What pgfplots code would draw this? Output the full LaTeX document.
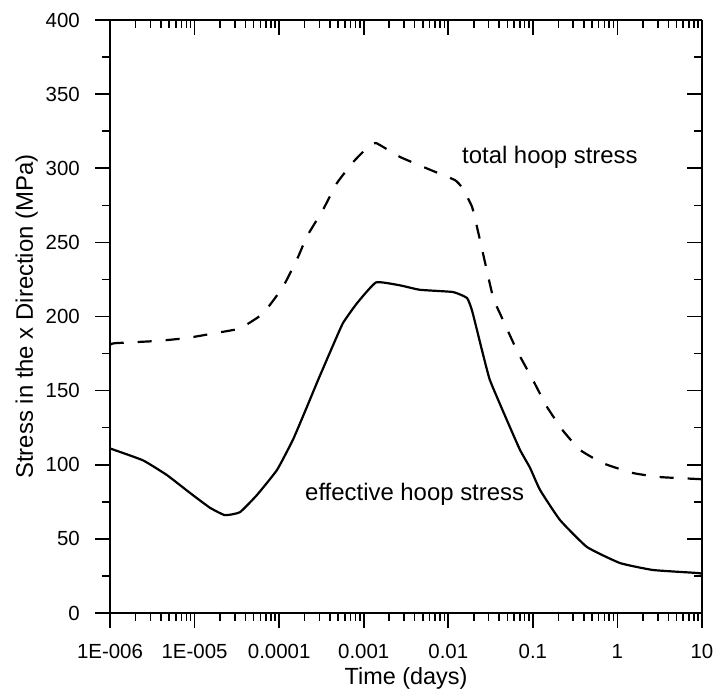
\documentclass[border=0pt]{standalone}
\usepackage{fontspec}
\setmainfont{Liberation Sans}
\usepackage{pgfplots}
\pgfplotsset{compat=1.18}
\def\myminor{2e-6,3e-6,4e-6,5e-6,6e-6,7e-6,8e-6,9e-6,2e-5,3e-5,4e-5,5e-5,6e-5,7e-5,8e-5,9e-5,2e-4,3e-4,4e-4,5e-4,6e-4,7e-4,8e-4,9e-4,2e-3,3e-3,4e-3,5e-3,6e-3,7e-3,8e-3,9e-3,0.02,0.03,0.04,0.05,0.06,0.07,0.08,0.09,0.2,0.3,0.4,0.5,0.6,0.7,0.8,0.9,2,3,4,5,6,7,8,9}
\begin{document}
\begin{tikzpicture}
\useasboundingbox (-110bp,-81bp) rectangle (605bp,613bp);
\begin{axis}[
  scale only axis, width=592bp, height=593bp,
  at={(0,0)}, anchor=south west,
  xmode=log, xmin=1e-6, xmax=10, ymin=0, ymax=400,
  xtick={1e-6,1e-5,1e-4,1e-3,1e-2,1e-1,1,10},
  minor xtick/.expanded={\myminor},
  ytick={0,50,...,400}, minor ytick={25,75,...,375},
  major tick length=15bp, minor tick length=8bp,
  tick style={line width=1.6bp, black},
  axis line style={-, line width=2bp, black},
  axis x line*=bottom, axis y line*=left,
  xtick pos=left, ytick pos=left,
  tick align=outside,
  xticklabels={1E-006,1E-005,0.0001,0.001,0.01,0.1,1,10},
  /pgf/number format/assume math mode=true,
  xticklabel style={font=\fontsize{20.5}{24}\selectfont, inner sep=0pt, anchor=north, yshift=-16bp},
  yticklabel style={font=\fontsize{20.5}{24}\selectfont, inner sep=0pt, anchor=east, xshift=-15bp},
  xlabel={Time (days)},
  ylabel={Stress in the x Direction (MPa)},
  xlabel style={font=\fontsize{23.5}{28}\selectfont, inner sep=0pt, at={(axis description cs:0.5,-0.091)}, anchor=north},
  ylabel style={font=\fontsize{24}{28}\selectfont, inner sep=0pt, at={(axis description cs:-0.1216,0.5)}, anchor=south},
]
\addplot[black, line width=2.2bp, dash pattern=on 14bp off 14bp, smooth, tension=0.25] coordinates {
(1e-6,181) (1.146e-6,182) (3.60e-6,183.5) (8.13e-6,185.5) (1.84e-5,189)
(3.44e-5,192) (6.44e-5,202) (1.11e-4,220) (1.67e-4,240) (2.13e-4,254)
(3.30e-4,272) (4.83e-4,290) (7.46e-4,304) (1.094e-3,313.7) (1.40e-3,317)
(2.69e-3,307.6) (6.08e-3,299) (0.0120,292) (0.0145,287) (0.0191,274)
(0.0237,251.6) (0.0338,213) (0.0409,202) (0.0649,177) (0.1005,157)
(0.147,139) (0.227,123) (0.361,110) (0.676,101) (1.53,94.4)
(3.18,91.7) (8.73,90.4) (10,90.2)
};
\addplot[black, line width=2.2bp, smooth, tension=0.25] coordinates {
(1e-6,111) (2.45e-6,103) (4.72e-6,93) (8.83e-6,81) (1.52e-5,71)
(2.29e-5,66) (3.44e-5,68) (5.47e-5,79.6) (9.44e-5,96.5) (1.46e-4,117)
(2.13e-4,139) (2.88e-4,157) (4.22e-4,179) (5.69e-4,195.6) (8.34e-4,209)
(1.40e-3,223) (2.69e-3,221) (4.63e-3,218) (0.01138,216.5) (0.01663,212.5)
(0.0191,204) (0.0251,177) (0.0311,157) (0.0494,130) (0.0705,110)
(0.0925,98) (0.1216,83) (0.2094,62.7) (0.4365,44.5) (1.072,33.7)
(2.636,29) (8.73,27) (10,26.5)
};
\node[anchor=base west, inner sep=0pt, font=\fontsize{24}{28}\selectfont] at (axis cs:0.01452,303.5) {total hoop stress};
\node[anchor=base west, inner sep=0pt, font=\fontsize{24}{28}\selectfont] at (axis cs:2.023e-4,76.2) {effective hoop stress};
\end{axis}
\begin{axis}[
  scale only axis, width=592bp, height=593bp,
  at={(0,0)}, anchor=south west,
  xmode=log, xmin=1e-6, xmax=10, ymin=0, ymax=400,
  xtick={1e-6,1e-5,1e-4,1e-3,1e-2,1e-1,1,10},
  minor xtick/.expanded={\myminor},
  ytick={0,50,...,400}, minor ytick={25,75,...,375},
  major tick length=15bp, minor tick length=8bp,
  tick style={line width=1.6bp, black},
  axis line style={-, line width=2bp, black},
  axis x line*=top, axis y line*=right,
  xtick pos=right, ytick pos=right,
  tick align=inside,
  xticklabels={}, yticklabels={},
]
\end{axis}
\end{tikzpicture}
\end{document}
